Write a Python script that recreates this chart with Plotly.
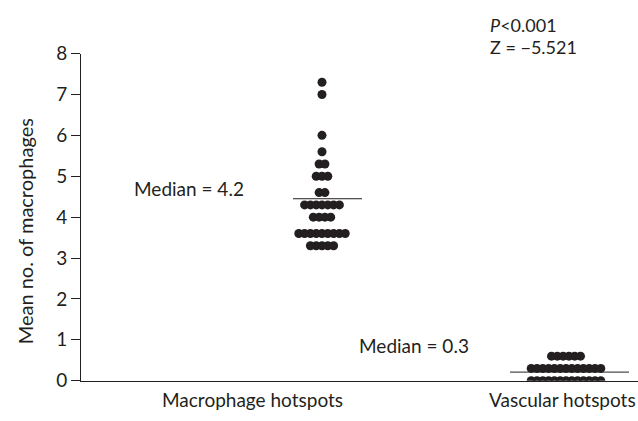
import plotly.graph_objects as go

# ---- data ----
groups = ["Macrophage hotspots", "Vascular hotspots"]
macrophage_values = [7.3, 7.0, 6.0, 5.6, 5.3, 5.3, 5.0, 5.0, 5.0, 4.6, 4.6,
                     4.3, 4.3, 4.3, 4.3, 4.3, 4.3, 4.3,
                     4.0, 4.0, 4.0, 4.0,
                     3.6, 3.6, 3.6, 3.6, 3.6, 3.6, 3.6, 3.6, 3.6,
                     3.3, 3.3, 3.3, 3.3, 3.3]
vascular_values = [0.6] * 6 + [0.3] * 13 + [0.0] * 13
median_lines = [4.45, 0.21]
median_labels = ["Median = 4.2", "Median = 0.3"]
y_ticks = [0, 1, 2, 3, 4, 5, 6, 7, 8]
y_title = "Mean no. of macrophages"
stat_lines = ["<i>P</i><0.001", "Z = \u22125.521"]

# ---- layout helpers ----
W, H = 638, 421
X0 = 81          # pixel of the y axis line
Y0, Y8 = 390, 44 # pixels of y=0 and y=8
def px(p):       # pixel column -> x-axis unit (1 unit = 1 px)
    return p - X0
def py(p):       # pixel row -> paper fraction
    return (H - p) / H

dot_centers = [px(322), px(566)]
step = 5.8

def swarm(values, center):
    xs, ys, rows = [], [], {}
    for v in values:
        rows[v] = rows.get(v, 0) + 1
    for v, n in rows.items():
        for i in range(n):
            xs.append(center + (i - (n - 1) / 2) * step)
            ys.append(v)
    return xs, ys

INK = "#231f20"
FAM = "Lato, 'Open Sans', sans-serif"
font = dict(family=FAM, size=19, color=INK)

fig = go.Figure()
for vals, c in zip([macrophage_values, vascular_values], dot_centers):
    xs, ys = swarm(vals, c)
    fig.add_trace(go.Scatter(x=xs, y=ys, mode="markers",
                             marker=dict(size=9, color=INK),
                             showlegend=False, hoverinfo="skip"))

line_spans = [(px(293), px(362)), (px(510), px(629))]
for (a, b), m in zip(line_spans, median_lines):
    fig.add_shape(type="line", x0=a, x1=b, y0=m, y1=m,
                  line=dict(color=INK, width=1))

fig.add_annotation(x=px(132), y=4.7, text=median_labels[0], showarrow=False,
                   xanchor="left", yanchor="middle", font=font)
fig.add_annotation(x=px(357), y=0.87, text=median_labels[1], showarrow=False,
                   xanchor="left", yanchor="middle", font=font)
for txt, yy in zip(stat_lines, [14, 37]):
    fig.add_annotation(x=px(488), y=py(yy), xref="x", yref="paper",
                       text=txt, showarrow=False, xanchor="left",
                       yanchor="middle", font=dict(family=FAM, size=18, color=INK))
for txt, cx in zip(groups, [252, 562]):
    fig.add_annotation(x=px(cx), y=py(410), xref="x", yref="paper",
                       text=txt, showarrow=False, xanchor="center",
                       yanchor="middle", font=font)
fig.add_annotation(x=25 / W, y=py(232), xref="paper", yref="paper",
                   text=y_title, textangle=-90, showarrow=False,
                   xanchor="center", yanchor="middle",
                   font=dict(family=FAM, size=20, color=INK))

fig.update_layout(
    width=W, height=H,
    margin=dict(l=0, r=0, t=0, b=0),
    paper_bgcolor="white", plot_bgcolor="white",
    font=font,
    xaxis=dict(domain=[X0 / W, 1], range=[0, W - X0],
               showticklabels=False, ticks="",
               showgrid=False, zeroline=False, showline=True,
               linecolor=INK, linewidth=1),
    yaxis=dict(domain=[py(Y0), py(Y8)], range=[0, 8],
               tickvals=y_ticks, ticks="outside", ticklen=9,
               tickcolor=INK, showgrid=False, zeroline=False,
               showline=True, linecolor=INK, linewidth=1,
               tickfont=font),
)

fig.write_html("out.html")
